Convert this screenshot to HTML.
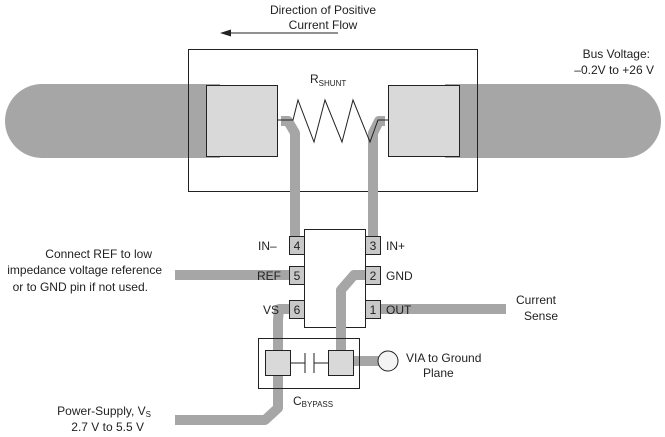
<!DOCTYPE html>
<html><head><style>
html,body{margin:0;padding:0;background:#fff}
svg{display:block}
text{font-family:"Liberation Sans",Arial,sans-serif;font-size:12px;fill:#222}
</style></head><body>
<svg width="665" height="437" viewBox="0 0 665 437" xmlns="http://www.w3.org/2000/svg">
<!-- bus bars -->
<path d="M42 84 L220 84 L220 158 L42 158 A37 37 0 0 1 42 84 Z" fill="#a6a6a6"/>
<path d="M445 84 L624 84 A37 37 0 0 1 624 158 L445 158 Z" fill="#a6a6a6"/>
<!-- shunt box -->
<rect x="188.5" y="49.5" width="289" height="142" fill="none" stroke="#222" stroke-width="1"/>
<!-- chip -->
<rect x="304.5" y="229.5" width="61" height="98" fill="#fff" stroke="#222"/>
<!-- traces -->
<g fill="none" stroke="#a6a6a6" stroke-width="10" stroke-linejoin="round">
<path d="M281 121 L288 121 L295 133 L295 240"/>
<path d="M385 121 L379 121 L373 133 L373 240"/>
<path d="M175 275 L290 275"/>
<path d="M365 275 L354 275 L341 290 L341 352"/>
<path d="M290 309 L279 309 L278 320 L278 408 L265 420 L175 420"/>
<path d="M380 309 L506 309"/>
<path d="M352 361 L380 361"/>
</g>
<!-- pads -->
<rect x="206.5" y="85.5" width="71" height="71" fill="#d9d9d9" stroke="#222"/>
<rect x="388.5" y="85.5" width="71" height="71" fill="#d9d9d9" stroke="#222"/>
<!-- resistor -->
<polyline points="278,120 293,120 298,100 314,142 325,100 342,142 353,100 370,142 378,120 388,120" fill="none" stroke="#222" stroke-width="1"/>
<text x="310" y="83">R<tspan font-size="8" dy="3">SHUNT</tspan></text>
<!-- arrow -->
<line x1="230" y1="33" x2="338" y2="33" stroke="#222"/>
<polygon points="220,33 231,29.5 231,36.5" fill="#222"/>
<text x="323" y="14" text-anchor="middle">Direction of Positive</text>
<text x="323" y="29" text-anchor="middle">Current Flow</text>
<text x="650" y="58" text-anchor="end">Bus Voltage:</text>
<text x="654" y="74" text-anchor="end">–0.2V to +26 V</text>
<g fill="#c8c8c8" stroke="#222">
<rect x="289.5" y="236.5" width="15" height="18"/>
<rect x="289.5" y="266.5" width="15" height="18"/>
<rect x="289.5" y="300.5" width="15" height="18"/>
<rect x="365.5" y="236.5" width="15" height="18"/>
<rect x="365.5" y="266.5" width="15" height="18"/>
<rect x="365.5" y="300.5" width="15" height="18"/>
</g>
<g text-anchor="middle">
<text x="297" y="250">4</text><text x="297" y="280">5</text><text x="297" y="314">6</text>
<text x="373" y="250">3</text><text x="373" y="280">2</text><text x="373" y="314">1</text>
</g>
<text x="258" y="250">IN–</text>
<text x="257" y="280">REF</text>
<text x="263" y="314">VS</text>
<text x="386" y="250">IN+</text>
<text x="386" y="280">GND</text>
<text x="386" y="314">OUT</text>
<!-- cap -->
<rect x="258.5" y="338.5" width="101" height="50" fill="none" stroke="#222"/>
<rect x="265.5" y="350.5" width="25" height="25" fill="#d9d9d9" stroke="#222"/>
<rect x="328.5" y="350.5" width="25" height="25" fill="#d9d9d9" stroke="#222"/>
<g stroke="#222"><line x1="290" y1="363" x2="305" y2="363"/><line x1="305" y1="353" x2="305" y2="373"/>
<line x1="314" y1="353" x2="314" y2="373"/><line x1="314" y1="363" x2="328" y2="363"/></g>
<circle cx="388" cy="361" r="10" fill="#f4f4f4" stroke="#222"/>
<text x="406" y="362">VIA to Ground</text>
<text x="423" y="377">Plane</text>
<text x="293" y="405">C<tspan font-size="8" dy="2">BYPASS</tspan></text>
<text x="152" y="258" text-anchor="end">Connect REF to low</text>
<text x="162" y="274" text-anchor="end">impedance voltage reference</text>
<text x="148" y="291" text-anchor="end">or to GND pin if not used.</text>
<text x="516" y="304">Current</text>
<text x="524" y="320">Sense</text>
<text x="151" y="415" text-anchor="end">Power-Supply, V<tspan font-size="8" dy="2">S</tspan></text>
<text x="144" y="431" text-anchor="end">2.7 V to 5.5 V</text>
</svg>
</body></html>
